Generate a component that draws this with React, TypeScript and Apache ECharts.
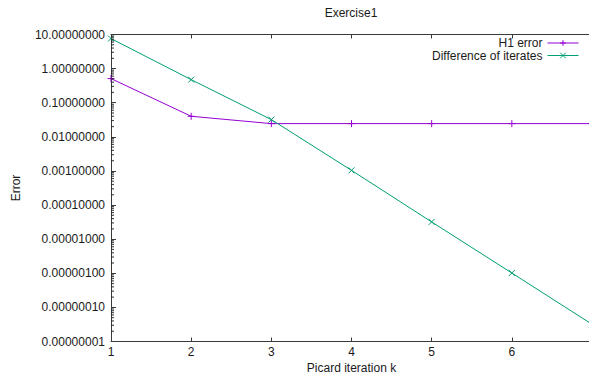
import React, { useEffect, useRef } from "react";
import * as echarts from "echarts";

// Picard iterations k and the two measured quantities per iteration
const kValues = [1, 2, 3, 4, 5, 6, 7];
const h1Error = [0.51, 0.04, 0.0244, 0.0244, 0.0244, 0.0244, 0.0244];
const diffIterates = [7.6, 0.475, 0.032, 0.00104, 3.2e-5, 1.02e-6, 3.2e-8];

const seriesNames = ["H1 error", "Difference of iterates"];
const seriesColors = ["#9400d3", "#009e73"];

// log axis range (decades)
const yMin = 1e-8;
const yMax = 10;
const xMin = 1;
const xMax = 7;

const FONT = "'Liberation Sans', Arial, Helvetica, sans-serif";
const AXIS_COLOR = "#3a3a3a";
const TEXT_COLOR = "#1a1a1a";

// minor tick positions 2..9 x 10^k inside the y range
const minorTicks: number[] = [];
for (let e = -8; e <= 0; e++) {
  for (let m = 2; m <= 9; m++) minorTicks.push(m * Math.pow(10, e));
}

const plusSymbol = "path://M0,4L8,4M4,0L4,8";
const crossSymbol = "path://M0,0L8,8M0,8L8,0";

export default function App() {
  const ref = useRef<HTMLDivElement>(null);

  useEffect(() => {
    if (!ref.current) return;
    const chart = echarts.init(ref.current, null, { renderer: "svg" });

    const makeLine = (name: string, values: number[], color: string, symbol: string, size: number) => ({
      name,
      type: "line",
      data: kValues.map((k, i) => [k, values[i]]),
      symbol,
      symbolSize: size,
      showSymbol: true,
      lineStyle: { color, width: 1 },
      itemStyle: { color, borderColor: color, borderWidth: 1 },
      emphasis: { disabled: true },
      z: 3,
    });

    chart.setOption({
      animation: false,
      textStyle: { fontFamily: FONT },
      grid: {
        left: 111,
        right: -3,
        top: 34.5,
        bottom: 32.5,
        containLabel: false,
        outerBoundsMode: "none",
      },
      graphic: [
        {
          type: "text",
          x: 351,
          y: 13,
          style: {
            text: "Exercise1",
            fontSize: 12,
            fontFamily: FONT,
            fill: TEXT_COLOR,
            textAlign: "center",
            textVerticalAlign: "middle",
          },
        },
      ],
      legend: {
        data: seriesNames,
        orient: "vertical",
        align: "right",
        right: 5,
        top: 32,
        itemWidth: 31,
        itemHeight: 7,
        itemGap: 0.5,
        lineStyle: { width: 1 },
        itemStyle: { borderWidth: 1 },
        textStyle: { fontSize: 12, lineHeight: 12, fontFamily: FONT, color: TEXT_COLOR },
        selectedMode: false,
      },
      xAxis: [
        {
          type: "value",
          min: xMin,
          max: xMax,
          interval: 1,
          position: "bottom",
          name: "Picard iteration k",
          nameLocation: "middle",
          nameGap: 19,
          nameTextStyle: { fontSize: 12, fontFamily: FONT, color: TEXT_COLOR },
          axisLine: { show: true, lineStyle: { color: AXIS_COLOR, width: 1 } },
          axisTick: { show: true, inside: true, length: 4, lineStyle: { color: AXIS_COLOR } },
          axisLabel: {
            margin: 4,
            fontSize: 12,
            fontFamily: FONT,
            color: TEXT_COLOR,
            formatter: (v: number) => (v >= xMax ? "" : String(v)),
          },
          splitLine: { show: false },
        },
        {
          type: "value",
          min: xMin,
          max: xMax,
          interval: 1,
          position: "top",
          axisLine: { show: true, onZero: false, lineStyle: { color: AXIS_COLOR, width: 1 } },
          axisTick: { show: true, inside: true, length: 4, lineStyle: { color: AXIS_COLOR } },
          axisLabel: { show: false },
          splitLine: { show: false },
        },
      ],
      yAxis: {
        type: "log",
        logBase: 10,
        min: yMin,
        max: yMax,
        name: "Error",
        nameLocation: "middle",
        nameGap: 89,
        nameRotate: 90,
        nameTextStyle: { fontSize: 12, fontFamily: FONT, color: TEXT_COLOR },
        axisLine: { show: true, lineStyle: { color: AXIS_COLOR, width: 1 } },
        axisTick: { show: true, inside: true, length: 5, lineStyle: { color: AXIS_COLOR } },
        axisLabel: {
          margin: 6,
          fontSize: 12,
          fontFamily: FONT,
          color: TEXT_COLOR,
          formatter: (v: number) => v.toFixed(8),
        },
        splitLine: { show: false },
        minorTick: { show: false },
      },
      series: [
        {
          // short inward minor ticks on the log axis at 2..9 of each decade
          name: "minor-ticks",
          type: "scatter",
          silent: true,
          clip: false,
          xAxisIndex: 0,
          yAxisIndex: 0,
          data: minorTicks.map((v) => [xMin, v]),
          symbol: "rect",
          symbolSize: [3, 1.2],
          symbolOffset: [1.5, 0],
          itemStyle: { color: "#222222" },
          emphasis: { disabled: true },
          z: 4,
        },
        makeLine(seriesNames[0], h1Error, seriesColors[0], plusSymbol, 7),
        makeLine(seriesNames[1], diffIterates, seriesColors[1], crossSymbol, 6),
      ],
    });

    return () => chart.dispose();
  }, []);

  return <div ref={ref} style={{ width: 589, height: 374, position: "absolute", left: 0, top: 0 }} />;
}
